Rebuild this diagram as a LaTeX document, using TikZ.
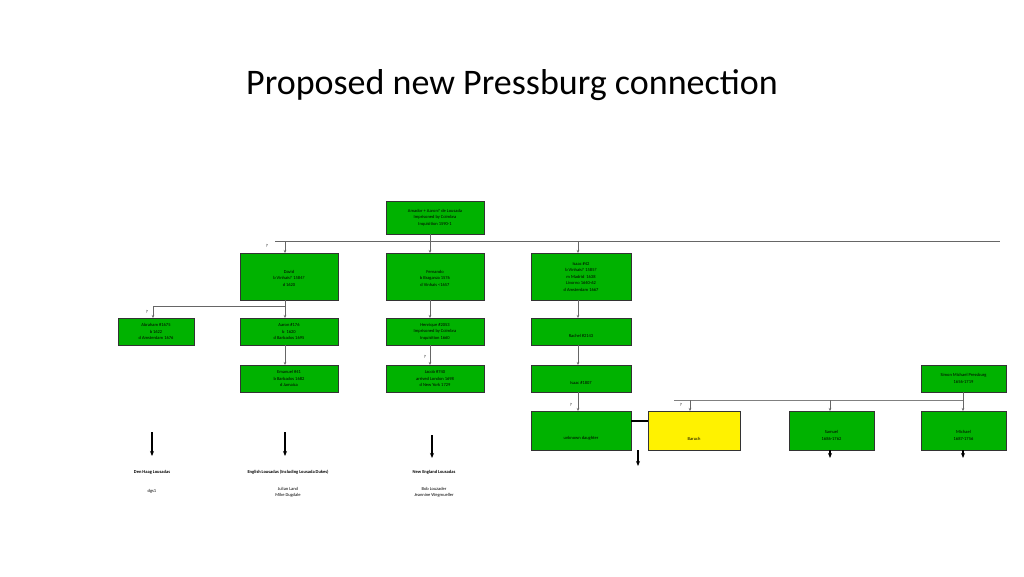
\documentclass[tikz,border=0pt]{standalone}
\usepackage{fontspec}
\setmainfont{Carlito}
\usetikzlibrary{arrows.meta}
\begin{document}
\begin{tikzpicture}[x=1pt,y=-1pt,
 gb/.style={draw=black!80,line width=1pt,fill=green!70!black},
 ln/.style={draw=black!60,line width=0.5pt},
 ar/.style={ln,-{Stealth[length=3pt,width=2.5pt]}},
 big/.style={draw=black,line width=1.2pt,-{Stealth[length=5pt,width=4pt]}},
 q/.style={font=\fontsize{4.5}{5}\selectfont,inner sep=0pt},
 lab/.style={font=\fontsize{4.5}{6.5}\selectfont,align=center,inner sep=0pt}]
\useasboundingbox (0,0) rectangle (1024,576);
\node[font=\fontsize{36}{40}\selectfont] (title) at (512,85) {Proposed new Pressburg connection};
\def\bx#1#2#3#4#5#6{\draw[gb] (#1,#2) rectangle (#3,#4) node[lab,pos=0.5] (#5) {#6};}
\bx{386}{201}{484}{234}{amador}{Amador + Aaron? de Lousada\\Imprisoned by Coimbra\\Inquisition 1590-1}
\bx{240}{253}{338}{300}{david}{\\David\\b Vinhais? 1584?\\d~1620}
\bx{386}{253}{484}{300}{fern}{\\Fernando\\b Braganza 1576\\d Vinhais <1657}
\bx{531}{253}{631}{300}{isaac}{Isaac \#42\\b Vinhais? 1585?\\m Madrid ~1638\\Livorno 1640-62\\d Amsterdam 1667}
\bx{118}{318}{194}{345}{abr}{Abraham \#1675\\b~1622\\d Amsterdam 1676}
\bx{240}{318}{338}{345}{aaron}{Aaron \#176\\b ~1620\\d Barbados 1695}
\bx{386}{318}{484}{345}{henr}{Henrique \#2053\\Imprisoned by Coimbra\\Inquisition 1660}
\bx{531}{318}{631}{345}{rach}{\\\\Rachel \#2143}
\bx{240}{365}{338}{392}{eman}{Emanuel \#41\\b Barbados 1682\\d Jamaica}
\bx{386}{365}{484}{392}{jacob}{Jacob \#740\\arrived London 1698\\d New York 1729}
\bx{531}{365}{631}{392}{isaac2}{\\\\Isaac \#1807}
\bx{921}{365}{1006}{392}{simon}{Simon Michael Pressburg\\1656-1719}
\bx{531}{411}{631}{450}{daut}{\\\\\\unknown daughter}
\draw[gb,fill=yellow] (648,411) rectangle (740,450) node[lab,pos=0.5] (baruch) {\\\\\\Baruch};
\bx{789}{411}{874}{450}{sam}{\\\\Samuel\\1686-1762}
\bx{921}{411}{1006}{450}{mich}{\\\\Michael\\1687-1756}
% connectors
\coordinate (t1) at (430,241);
\draw[ln,line width=1pt] (275,241) -- (1000,241);
\draw[ln] (430,234) -- (t1);
\draw[ar] (285,241) -- (285,253);
\draw[ar] (430,241) -- (430,253);
\draw[ar] (578,241) -- (578,253);
\node[q] (q1) at (267,246) {?};
\draw[ln] (285,300) -- (285,306) -- (153,306);
\draw[ar] (153,306) -- (153,318);
\draw[ar] (285,306) -- (285,318);
\node[q] (q2) at (147,312) {?};
\draw[ar] (430,300) -- (430,318);
\draw[ar] (578,300) -- (578,318);
\draw[ar] (285,345) -- (285,365);
\draw[ar] (430,345) -- (430,365);
\node[q] (q3) at (425,357) {?};
\draw[ar] (578,345) -- (578,365);
\draw[ar] (578,392) -- (578,411);
\node[q] (q4) at (571,405) {?};
\draw[draw=black!50,line width=1pt] (674,400) -- (963,400);
\draw[ln] (963,392) -- (963,400);
\draw[ar] (690,400) -- (690,411);
\draw[ar] (830,400) -- (830,411);
\draw[ar] (963,400) -- (963,411);
\node[q] (q5) at (681,405) {?};
\draw[line width=1.5pt] (631,421) -- (648,421);
\draw[big] (638,450) -- (638,466);
\draw[big] (830,450) -- (830,458);
\draw[big] (963,450) -- (963,458);
\draw[big] (152,432) -- (152,456);
\draw[big] (285,432) -- (285,456);
\draw[big] (432,435) -- (432,458);
\node[lab,font=\fontsize{4.5}{6.5}\selectfont\bfseries] (l1) at (152,472) {Den Haag Lousadas};
\node[lab,font=\fontsize{4.5}{6.5}\selectfont\bfseries] (l2) at (288,472) {English Lousadas (Including Lousada Dukes)};
\node[lab,font=\fontsize{4.5}{6.5}\selectfont\bfseries] (l3) at (434,472) {New England Lousadas};
\node[lab] (n1) at (152,491) {dgs1};
\node[lab,anchor=north] (n2) at (288,487) {Julian Land\\Mike Dugdale};
\node[lab,anchor=north] (n3) at (434,487) {Bob Louzader\\Jeannine Wegmueller};
\end{tikzpicture}
\end{document}
